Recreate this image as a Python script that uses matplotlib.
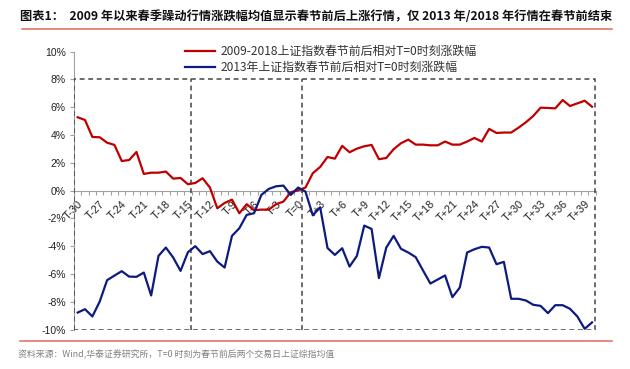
import numpy as np
import matplotlib
matplotlib.use("Agg")
import matplotlib.pyplot as plt
from matplotlib.lines import Line2D
from matplotlib.ticker import FixedLocator, FuncFormatter

plt.rcParams["font.family"] = ["Liberation Sans", "Noto Sans CJK SC", "DejaVu Sans"]
CJK = ["Noto Sans CJK SC", "DejaVu Sans"]

# categories: T-30 ... T+40
days = [f"T-{k}" for k in range(30, 0, -1)] + ["T=0"] + [f"T+{k}" for k in range(1, 41)]

# 2009-2018 average, % change vs T=0
avg_0918 = [5.28, 5.08, 3.86, 3.84, 3.45, 3.29, 2.13, 2.20, 2.78, 1.20,
            1.29, 1.29, 1.37, 0.86, 0.91, 0.46, 0.55, 0.89, 0.22, -1.27,
            -0.89, -0.65, -1.63, -0.98, -1.41, -1.37, -1.37, -0.98, -0.79, -0.12,
            0.02, 0.22, 1.25, 1.70, 2.42, 2.30, 3.22, 2.76, 3.02, 3.19,
            3.29, 2.26, 2.35, 2.98, 3.41, 3.67, 3.31, 3.31, 3.26, 3.26,
            3.53, 3.31, 3.31, 3.53, 3.79, 3.53, 4.44, 4.15, 4.18, 4.18,
            4.53, 4.92, 5.37, 5.97, 5.95, 5.92, 6.52, 6.09, 6.28, 6.47,
            6.04]

# 2013, % change vs T=0
y2013 = [-8.78, -8.54, -9.06, -7.99, -6.45, -6.12, -5.80, -6.19, -6.21, -5.90,
         -7.55, -4.70, -4.10, -4.82, -5.78, -4.44, -4.00, -4.57, -4.36, -5.11,
         -5.54, -3.26, -2.71, -1.75, -1.63, -0.31, 0.12, 0.31, 0.36, -0.31,
         0.22, -0.07, -1.78, -1.20, -4.13, -4.63, -4.15, -5.47, -4.70, -2.52,
         -2.76, -6.30, -4.10, -3.26, -4.19, -4.46, -4.79, -5.75, -6.69, -6.40,
         -6.11, -7.67, -6.98, -4.46, -4.22, -4.05, -4.10, -5.30, -5.13, -7.79,
         -7.79, -7.91, -8.22, -8.30, -8.82, -8.25, -8.25, -8.51, -9.06, -9.95,
         -9.49]

legend_labels = ["2009-2018上证指数春节前后相对T=0时刻涨跌幅",
                 "2013年上证指数春节前后相对T=0时刻涨跌幅"]
yticks = [10, 8, 6, 4, 2, 0, -2, -4, -6, -8, -10]

title = "图表1：  2009 年以来春季躁动行情涨跌幅均值显示春节前后上涨行情，仅 2013 年/2018 年行情在春节前结束"
source = "资料来源：Wind,华泰证券研究所，T=0 时刻为春节前后两个交易日上证综指均值"

RED = "#C00000"
BLUE = "#0D1A7E"
W, H = 630, 369

fig = plt.figure(figsize=(W / 100, H / 100), dpi=100)
ax = fig.add_axes([74 / W, 1 - 329.5 / H, 521.7 / W, (329.5 - 51.7) / H])

x = np.arange(len(days))
ax.plot(x, avg_0918, color=RED, lw=1.6, zorder=4)
ax.plot(x, y2013, color=BLUE, lw=1.6, zorder=4)

ax.set_xlim(-0.5, len(days) - 0.5)
ax.set_ylim(-10, 10)

# dashed frame marking the pre/post holiday windows
box = dict(color="#444444", lw=1.1, ls=(0, (3.2, 2.4)), zorder=3)
x0, x1 = -0.45, len(days) - 0.55
ax.plot([x0, x0, x1, x1, x0], [-10, 8, 8, -10, -10], **box)
for xv in (15.4, 30.55):
    ax.plot([xv, xv], [-10, 8], **box)

for s in ("top", "right"):
    ax.spines[s].set_visible(False)
ax.spines["left"].set_color("#A0A0A0")
ax.spines["bottom"].set_position(("data", 0))
ax.spines["bottom"].set_color("#A0A0A0")

ax.yaxis.set_major_locator(FixedLocator(yticks))
ax.yaxis.set_major_formatter(FuncFormatter(lambda v, p: f"{v:.0f}%".replace("\u2212", "-")))
ax.tick_params(axis="y", length=3, width=0.8, color="#A0A0A0", pad=3,
               labelsize=7.5, labelcolor="#222222")

lab_idx = list(range(0, len(days), 3))
ax.set_xticks(lab_idx)
ax.set_xticklabels([days[i] for i in lab_idx])
ax.set_xticks(np.arange(-0.5, len(days), 1), minor=True)
ax.tick_params(axis="x", which="major", length=0, pad=6, labelsize=7.8, labelcolor="#222222")
ax.tick_params(axis="x", which="minor", length=3, width=0.8, color="#A0A0A0")
for t in ax.get_xticklabels():
    t.set_rotation(45)
    t.set_ha("right")
    t.set_va("top")
    t.set_rotation_mode("anchor")

handles = [Line2D([], [], color=RED, lw=1.6), Line2D([], [], color=BLUE, lw=1.6)]
fig.legend(handles, legend_labels, loc="upper left", bbox_to_anchor=(185 / W, 1 - 45 / H),
           frameon=False, prop={"family": CJK, "size": 8.6}, labelcolor="#333333",
           handlelength=2.5, handletextpad=0.45, labelspacing=0.25,
           borderpad=0, borderaxespad=0)

fig.text(20 / W, 1 - 17 / H, title, family=CJK, fontsize=8.8, fontweight="bold",
         va="center", ha="left", color="#111111")
fig.add_artist(Line2D([22 / W, 612 / W], [1 - 29 / H, 1 - 29 / H], color="#E06A5A", lw=1.1))
fig.add_artist(Line2D([20 / W, 612 / W], [1 - 341 / H, 1 - 341 / H], color="#E06A5A", lw=1.1))
fig.text(18 / W, 1 - 355 / H, source, family=CJK, fontsize=6.4, va="center",
         ha="left", color="#808080")

fig.savefig("out.png", dpi=100)
